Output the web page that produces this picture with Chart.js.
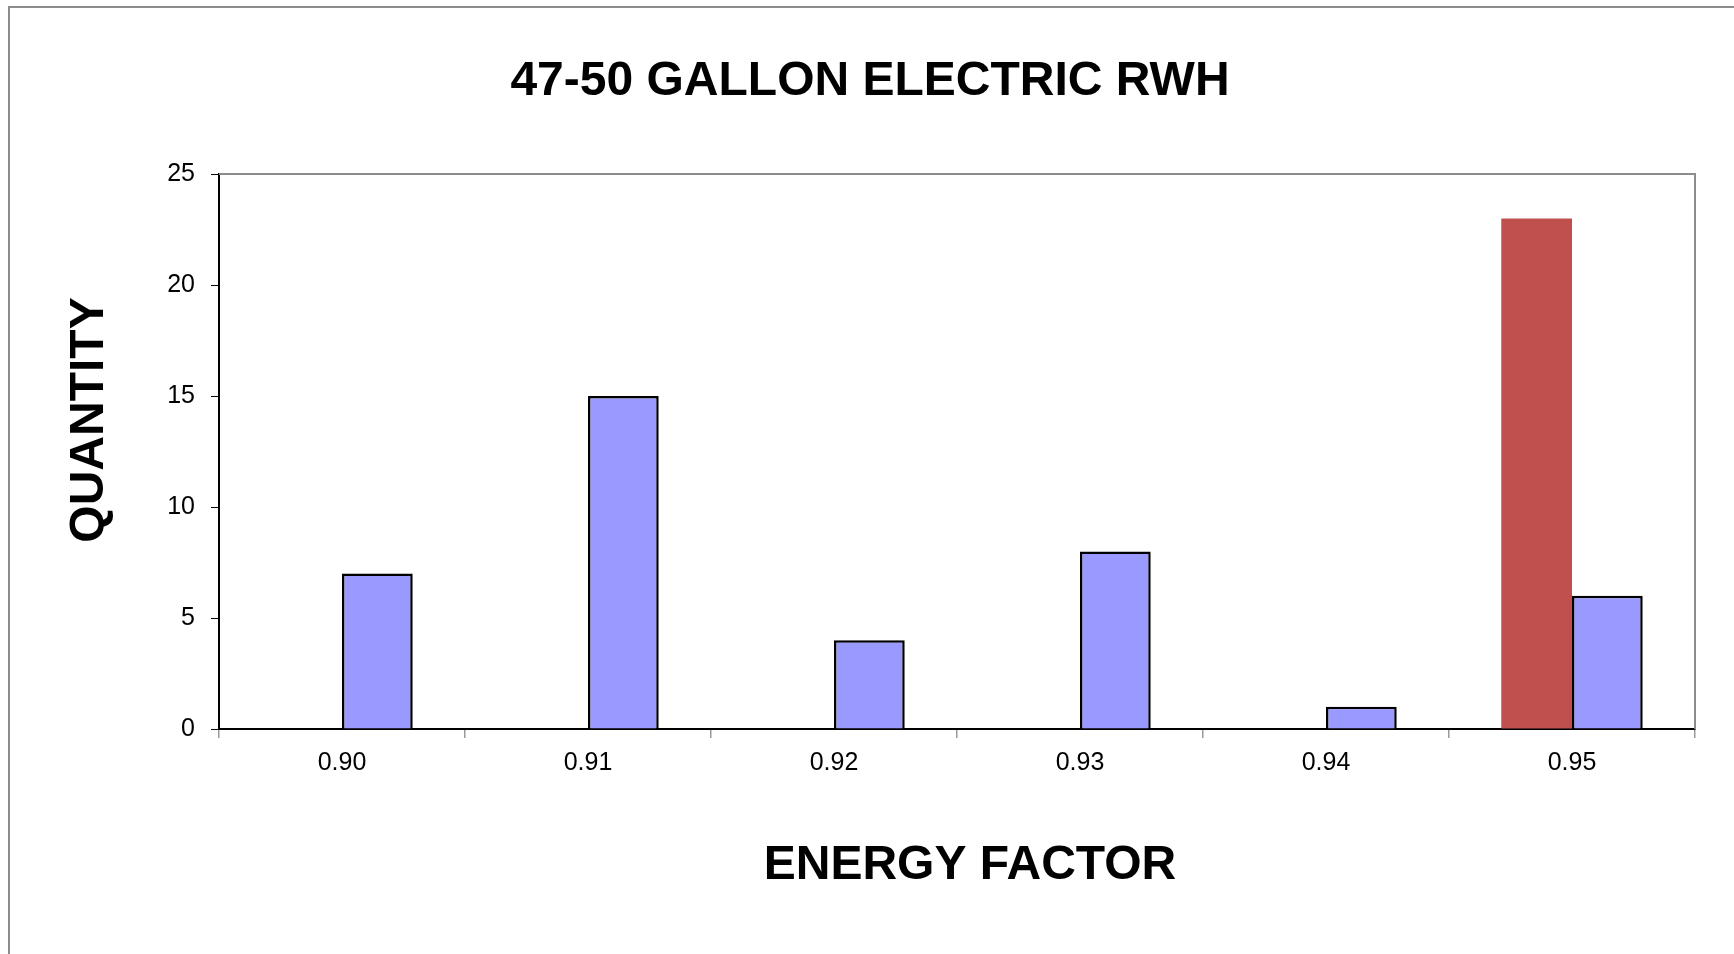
<!DOCTYPE html>
<html>
<head>
<meta charset="utf-8">
<title>47-50 GALLON ELECTRIC RWH</title>
<script src="https://cdn.jsdelivr.net/npm/chart.js@4.4.1/dist/chart.umd.min.js"></script>
<style>
  html, body { margin: 0; padding: 0; background: #fff; overflow: hidden; }
  canvas { display: block; }
</style>
</head>
<body>
<canvas id="myChart" width="1734" height="954"></canvas>
<script>
// data
const energyFactors = ['0.90', '0.91', '0.92', '0.93', '0.94', '0.95'];
const highlightQty = [0, 0, 0, 0, 0, 23];
const quantities = [7, 15, 4, 8, 1, 6];
const yTicks = [0, 5, 10, 15, 20, 25];

const chartTitle = '47-50 GALLON ELECTRIC RWH';
const xTitle = 'ENERGY FACTOR';
const yTitle = 'QUANTITY';

const FONT = "'Liberation Sans', Arial, sans-serif";

// frame, plot border and the three titles
const decorations = {
    id: 'decorations',
    beforeDraw(chart) {
        const ctx = chart.ctx;
        ctx.save();
        ctx.strokeStyle = '#8c8c8c';
        ctx.lineWidth = 2;
        ctx.beginPath();
        ctx.moveTo(9, chart.height);
        ctx.lineTo(9, 7);
        ctx.lineTo(chart.width, 7);
        ctx.stroke();
        ctx.restore();
    },
    afterDraw(chart) {
        const ctx = chart.ctx;
        const a = chart.chartArea;
        ctx.save();
        ctx.strokeStyle = '#8c8c8c';
        ctx.lineWidth = 2;
        ctx.beginPath();
        ctx.moveTo(a.left, a.top);
        ctx.lineTo(a.right, a.top);
        ctx.lineTo(a.right, a.bottom);
        ctx.stroke();

        ctx.fillStyle = '#000';
        ctx.textAlign = 'center';
        ctx.textBaseline = 'middle';
        ctx.font = 'bold 48px ' + FONT;
        ctx.fillText(chartTitle, 870, 82);
        ctx.fillText(xTitle, 970, 866);
        ctx.translate(90, 420);
        ctx.rotate(-Math.PI / 2);
        ctx.fillText(yTitle, 0, 0);
        ctx.restore();
    }
};

const ctx = document.getElementById('myChart').getContext('2d');
new Chart(ctx, {
    type: 'bar',
    data: {
        labels: energyFactors,
        datasets: [{
            label: 'Highlight',
            data: highlightQty,
            backgroundColor: '#C0504D',
            borderWidth: 0
        }, {
            label: 'Quantity',
            data: quantities,
            backgroundColor: '#9999FF',
            borderColor: '#000',
            borderWidth: 2.5
        }]
    },
    options: {
        responsive: false,
        animation: false,
        devicePixelRatio: 1,
        layout: { padding: { top: 174, right: 39, left: 0, bottom: 0 } },
        datasets: { bar: { categoryPercentage: 0.575, barPercentage: 1 } },
        plugins: {
            legend: { display: false },
            tooltip: { enabled: false }
        },
        scales: {
            x: {
                grid: { offset: true, drawOnChartArea: false, tickLength: 9, color: '#999', lineWidth: 1.5 },
                border: { color: '#000', width: 2 },
                ticks: { color: '#000', font: { family: FONT, size: 25 }, padding: 10, maxRotation: 0 },
                afterFit(scale) { scale.height = 225; }
            },
            y: {
                min: 0,
                max: 25,
                afterBuildTicks(scale) { scale.ticks = yTicks.map(v => ({ value: v })); },
                grid: { drawOnChartArea: false, tickLength: 8, color: '#000', lineWidth: 1 },
                border: { color: '#000', width: 2 },
                ticks: { color: '#000', font: { family: FONT, size: 25 }, padding: 16 },
                afterFit(scale) { scale.width = 219; }
            }
        }
    },
    plugins: [decorations]
});
</script>
</body>
</html>
